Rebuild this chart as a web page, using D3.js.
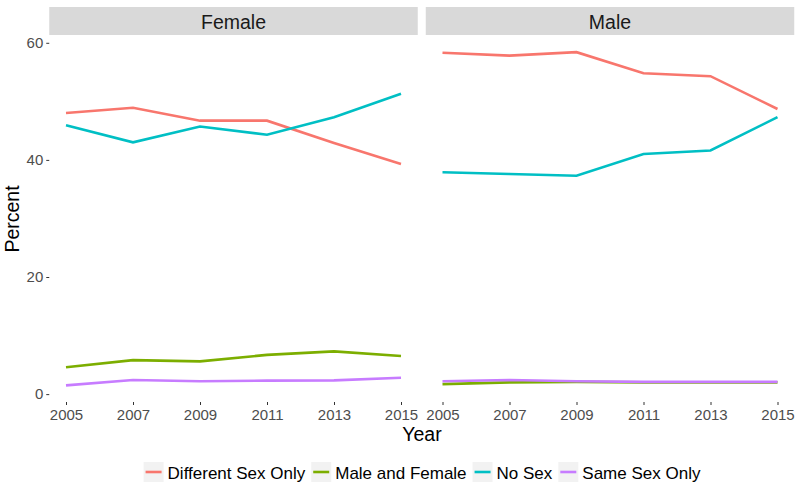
<!DOCTYPE html>
<html><head><meta charset="utf-8">
<script src="https://cdn.jsdelivr.net/npm/d3@7"></script>
<style>body{margin:0;background:#fff}text{font-family:"Liberation Sans",Arial,sans-serif}</style>
</head><body><svg id="c" width="800" height="488"></svg>
<script>
const years = [2005, 2007, 2009, 2011, 2013, 2015];
const panels = ["Female", "Male"];
const seriesNames = ["Different Sex Only", "Male and Female", "No Sex", "Same Sex Only"];
const colors = ["#F8766D", "#7CAE00", "#00BFC4", "#C77CFF"];
const yTicks = [0, 20, 40, 60];
// Female
const femaleDifferent = [48.0, 48.9, 46.7, 46.7, 42.9, 39.3];
const femaleBoth      = [4.6, 5.8, 5.6, 6.7, 7.3, 6.5];
const femaleNone      = [45.9, 43.0, 45.7, 44.3, 47.3, 51.3];
const femaleSame      = [1.5, 2.4, 2.2, 2.3, 2.35, 2.8];
// Male
const maleDifferent = [58.3, 57.8, 58.4, 54.8, 54.3, 48.7];
const maleBoth      = [1.7, 2.0, 2.1, 2.0, 2.0, 2.0];
const maleNone      = [37.9, 37.6, 37.3, 41.0, 41.6, 47.3];
const maleSame      = [2.2, 2.4, 2.2, 2.1, 2.1, 2.1];

const data = {
  Female: [femaleDifferent, femaleBoth, femaleNone, femaleSame],
  Male: [maleDifferent, maleBoth, maleNone, maleSame]
};

const svg = d3.select("#c");
const panelTop = 35.5, panelBottom = 402;
const panelX = [[49.25, 417.75], [425.75, 794.25]];
const stripTop = 7;

const allVals = [].concat(...panels.map(p => [].concat(...data[p])));
const [mn, mx] = d3.extent(allVals);
const ex = (mx - mn) * 0.05;
const y = d3.scaleLinear().domain([mn - ex, mx + ex]).range([panelBottom, panelTop]);

panels.forEach((p, i) => {
  const [x0, x1] = panelX[i];
  const x = d3.scaleLinear().domain([2004.5, 2015.5]).range([x0, x1]);
  svg.append("rect").attr("x", x0).attr("y", stripTop).attr("width", x1 - x0).attr("height", panelTop - stripTop - 0.5).attr("fill", "#D9D9D9");
  svg.append("text").attr("x", (x0 + x1) / 2).attr("y", 28.8).attr("text-anchor", "middle")
    .attr("font-size", 19.5).attr("fill", "#1A1A1A").text(p);
  const xa = svg.append("g").attr("transform", `translate(0,${panelBottom})`)
    .call(d3.axisBottom(x).tickValues(years).tickFormat(d3.format("d")).tickSize(3).tickPadding(4));
  xa.select(".domain").remove();
  xa.selectAll("line").attr("stroke", "#333").attr("stroke-width", 1);
  xa.selectAll("text").attr("font-size", 15).attr("fill", "#4D4D4D").attr("font-family", "Liberation Sans, Arial, sans-serif");
  if (i === 0) {
    const ya = svg.append("g").attr("transform", `translate(${x0},0)`)
      .call(d3.axisLeft(y).tickValues(yTicks).tickSize(3).tickPadding(3));
    ya.select(".domain").remove();
    ya.selectAll("line").attr("stroke", "#333").attr("stroke-width", 1);
    ya.selectAll("text").attr("font-size", 15).attr("fill", "#4D4D4D").attr("font-family", "Liberation Sans, Arial, sans-serif");
  }
  const line = d3.line().x((d, j) => x(years[j])).y(d => y(d));
  data[p].forEach((vals, k) => {
    svg.append("path").attr("d", line(vals)).attr("fill", "none").attr("stroke", colors[k]).attr("stroke-width", 2.6);
  });
});

svg.append("text").attr("x", 422).attr("y", 441).attr("text-anchor", "middle").attr("font-size", 19.5).attr("fill", "#000").text("Year");
svg.append("text").attr("transform", "translate(19,219) rotate(-90)").attr("text-anchor", "middle").attr("font-size", 19.5).attr("fill", "#000").text("Percent");

const lg = svg.append("g");
let cx = 0;
seriesNames.forEach((s, k) => {
  const g = lg.append("g").attr("transform", `translate(${cx},0)`);
  g.append("rect").attr("x", 0).attr("y", 462).attr("width", 20).attr("height", 20).attr("fill", "#F2F2F2");
  g.append("line").attr("x1", 2).attr("x2", 18).attr("y1", 472).attr("y2", 472).attr("stroke", colors[k]).attr("stroke-width", 2.6);
  const t = g.append("text").attr("x", 24).attr("y", 478.5).attr("font-size", 17).attr("fill", "#000").text(s);
  cx += 24 + t.node().getComputedTextLength() + 6;
});
const total = cx - 6;
lg.attr("transform", `translate(${422 - total / 2},0)`);
</script></body></html>
